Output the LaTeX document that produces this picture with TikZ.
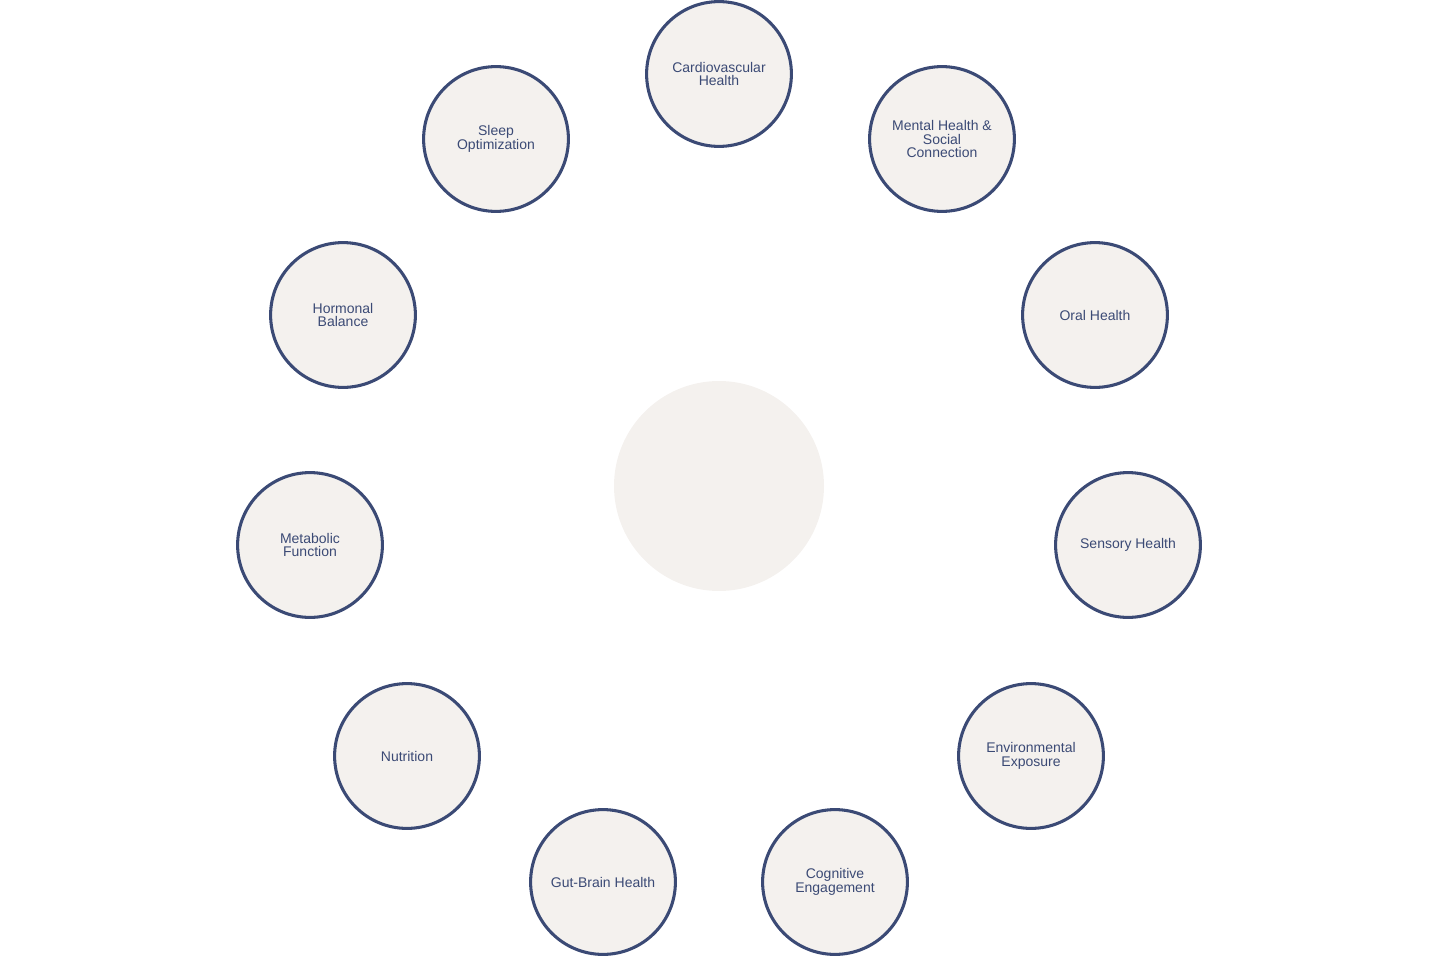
\documentclass[tikz,border=0pt]{standalone}
\usepackage{fontspec}
\setmainfont{Liberation Sans}
\definecolor{navy}{HTML}{3B4A75}
\definecolor{cream}{HTML}{F4F1EE}
\begin{document}
\begin{tikzpicture}[x=0.75pt,y=-0.75pt,
  topic/.style={circle,draw=navy,line width=2.3pt,fill=cream,minimum size=108.6pt,inner sep=0pt,
    align=center,text=navy,font=\fontsize{10.5}{10.1}\selectfont},
  hub/.style={circle,fill=cream,minimum size=157.5pt,inner sep=0pt}]
\useasboundingbox (0,0) rectangle (1440,960);
\node[hub] (c) at (719,486) {};
\node[topic] (n1) at (719,74) {Cardiovascular\\Health};
\node[topic] (n2) at (942,139) {Mental Health \&\\Social\\Connection};
\node[topic] (n3) at (1095,315) {Oral Health};
\node[topic] (n4) at (1128,545) {Sensory Health};
\node[topic] (n5) at (1031,756) {Environmental\\Exposure};
\node[topic] (n6) at (835,882) {Cognitive\\Engagement};
\node[topic] (n7) at (603,882) {Gut-Brain Health};
\node[topic] (n8) at (407,756) {Nutrition};
\node[topic] (n9) at (310,545) {Metabolic\\Function};
\node[topic] (n10) at (343,315) {Hormonal\\Balance};
\node[topic] (n11) at (496,139) {Sleep\\Optimization};
\end{tikzpicture}
\end{document}
